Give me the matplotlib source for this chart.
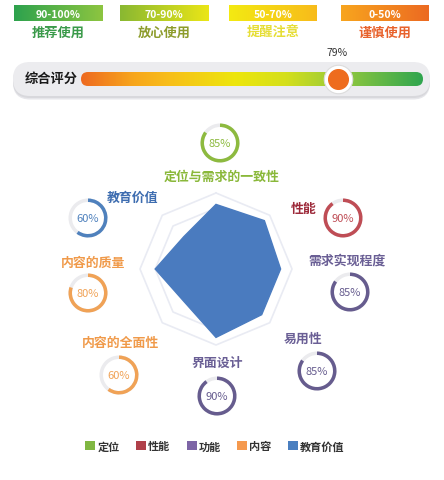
import numpy as np
import matplotlib.pyplot as plt
from matplotlib.patches import FancyBboxPatch, Rectangle, Wedge, Patch
from matplotlib.colors import LinearSegmentedColormap

plt.rcParams['font.family'] = ['Noto Sans CJK SC', 'DejaVu Sans']

# --- data ---
level_ranges = ['90-100%', '70-90%', '50-70%', '0-50%']
level_names = ['推荐使用', '放心使用', '提醒注意', '谨慎使用']
overall_label = '综合评分'
overall_score = 79

dims = ['定位与需求的一致性', '性能', '需求实现程度', '易用性',
        '界面设计', '内容的全面性', '内容的质量', '教育价值']
dim_scores = [85, 90, 85, 85, 90, 60, 80, 60]
dim_groups = ['定位', '性能', '功能', '功能', '功能', '内容', '内容', '教育价值']
groups = ['定位', '性能', '功能', '内容', '教育价值']

# --- styles ---
W, H = 444, 481
box_grads = [('#2da24e', '#8dc540'), ('#89b832', '#ebe617'),
             ('#f3ea12', '#f8bb1b'), ('#f8a51e', '#ec6a22')]
level_colors = ['#3a9a4a', '#8d9c2c', '#e6de35', '#e8622c']
box_x = [14, 120, 229, 341]
ring_color = {'定位': '#8dba3f', '性能': '#bf4d55', '功能': '#665c8e',
              '内容': '#f0a256', '教育价值': '#4f81bd'}
label_color = {'定位': '#8ab83a', '性能': '#9d2a3a', '功能': '#6a5f95',
               '内容': '#f09a4a', '教育价值': '#3e6db0'}
legend_color = {'定位': '#80b742', '性能': '#b0404a', '功能': '#7d65a6',
                '内容': '#f5994e', '教育价值': '#4a7fc0'}
# ring centres and label centres in image pixels (layout only)
ring_xy = [(220, 144), (343, 219), (350, 293), (317, 372),
           (217, 397), (119, 376), (88, 294), (88, 219)]
label_xy = [(222, 177), (304, 209), (347, 261), (303, 339),
            (217, 363), (120, 343), (93, 263), (133, 198)]

fig = plt.figure(figsize=(W / 100, H / 100), dpi=100)
ax = fig.add_axes([0, 0, 1, 1])
ax.axis('off')


def hgrad(x0, x1, y0, y1, colors, clip=None, z=2):
    cmap = LinearSegmentedColormap.from_list('g', colors)
    im = ax.imshow(np.linspace(0, 1, 256)[None, :], cmap=cmap, aspect='auto',
                   extent=(x0, x1, y1, y0), interpolation='bicubic', zorder=z)
    if clip is not None:
        im.set_clip_path(clip)
    return im


# level boxes on top
for i, rng in enumerate(level_ranges):
    x0 = box_x[i]
    r = Rectangle((x0, 6), 88, 16, facecolor='none', edgecolor='none')
    ax.add_patch(r)
    hgrad(x0, x0 + 88, 6, 22, box_grads[i], clip=r)
    ax.text(x0 + 44, 14.5, rng, color='white', fontsize=7.5, fontweight='bold',
            ha='center', va='center', zorder=3)
    ax.text(x0 + 44, 33, level_names[i], color=level_colors[i], fontsize=9.5,
            fontweight='bold', ha='center', va='center')

# overall score bar
for dy, c in [(3.5, '#e6e6ea'), (2, '#d8d8dc')]:
    ax.add_patch(FancyBboxPatch((13, 63 + dy), 417, 34, boxstyle='round,pad=0,rounding_size=17',
                                facecolor=c, edgecolor='none', zorder=1))
ax.add_patch(FancyBboxPatch((13, 63), 417, 34, boxstyle='round,pad=0,rounding_size=17',
                            facecolor='#ececef', edgecolor='none', zorder=1.5))
ax.text(25, 79, overall_label, fontsize=9.5, fontweight='bold', color='#1a1a1a',
        ha='left', va='center', zorder=3)
bar = FancyBboxPatch((81, 73), 342, 14, boxstyle='round,pad=0,rounding_size=7',
                     facecolor='none', edgecolor='none')
ax.add_patch(bar)
hgrad(81, 423, 73, 87, [(0, '#ee6a20'), (0.15, '#f7a51c'), (0.25, '#f8bd1a'),
                        (0.45, '#ede60c'), (0.6, '#d4df1c'), (0.78, '#8cc63f'),
                        (1, '#2ea54f')], clip=bar)

ax.set_xlim(0, W)
ax.set_ylim(H, 0)

# score marker on its own scale aligned with the bar
sax = fig.add_axes([81 / W, 1 - 100 / H, 342 / W, 55 / H])
sax.set_xlim(-8, 108)
sax.set_ylim(100, 45)
sax.axis('off')
sax.scatter([overall_score], [80], s=420, color='white', edgecolor='#dcdcdc',
            linewidth=0.8, zorder=4)
sax.scatter([overall_score], [80], s=200, color='#ee6c1e', zorder=5)
sax.text(overall_score, 53, f'{overall_score}%', fontsize=7.5, color='#333333',
         ha='center', va='center')

# radar
cx, cy, R = 216, 270, 76
rax = fig.add_axes([(cx - R) / W, 1 - (cy + R) / H, 2 * R / W, 2 * R / H],
                   projection='polar')
rax.set_theta_zero_location('N')
rax.set_theta_direction(-1)
n = len(dims)
ang = np.linspace(0, 2 * np.pi, n, endpoint=False)
ang_c = np.append(ang, ang[0])
for g in [80, 100]:
    rax.plot(ang_c, [g] * (n + 1), color='#e9ebf3', lw=1.2, clip_on=False)
rax.fill(ang_c, dim_scores + dim_scores[:1], color='#4a7bbf', zorder=3)
rax.set_ylim(0, 100)
rax.axis('off')

# rings + labels
for i, name in enumerate(dims):
    g = dim_groups[i]
    x, y = ring_xy[i]
    ax.add_patch(Wedge((x, y), 19.5, 0, 360, width=3.5, facecolor='#ebebee',
                       edgecolor='none', zorder=2))
    ax.add_patch(Wedge((x, y), 19.5, 270, 270 + 3.6 * dim_scores[i], width=3.5,
                       facecolor=ring_color[g], edgecolor='none', zorder=3))
    ax.text(x, y + 0.5, f'{dim_scores[i]}%', fontsize=8, color=ring_color[g],
            ha='center', va='center', zorder=4)
    lx, ly = label_xy[i]
    ax.text(lx, ly, name, fontsize=9.3, fontweight='bold', color=label_color[g],
            ha='center', va='center')

handles = [Patch(facecolor=legend_color[g], label=g) for g in groups]
fig.legend(handles=handles, ncol=5, loc='center', bbox_to_anchor=(215 / W, 1 - 447 / H),
           frameon=False, handlelength=0.9, handleheight=0.9, handletextpad=0.2,
           columnspacing=1.45, prop={'size': 8, 'weight': 'bold'}, labelcolor='#333333')

fig.savefig('out.png', dpi=100)
